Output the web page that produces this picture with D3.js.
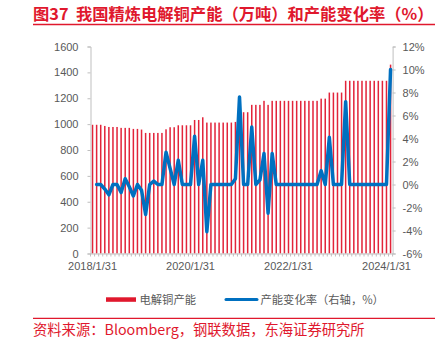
<!DOCTYPE html>
<html><head><meta charset="utf-8">
<script src="https://cdn.jsdelivr.net/npm/d3@7"></script>
<style>html,body{margin:0;padding:0;background:#fff;}svg{display:block;}</style>
</head><body>
<script>
const categories = [
"2018/1/31","2018/2/28","2018/3/31","2018/4/30","2018/5/31","2018/6/30","2018/7/31","2018/8/31","2018/9/30","2018/10/31","2018/11/30","2018/12/31",
"2019/1/31","2019/2/28","2019/3/31","2019/4/30","2019/5/31","2019/6/30","2019/7/31","2019/8/31","2019/9/30","2019/10/31","2019/11/30","2019/12/31",
"2020/1/31","2020/2/29","2020/3/31","2020/4/30","2020/5/31","2020/6/30","2020/7/31","2020/8/31","2020/9/30","2020/10/31","2020/11/30","2020/12/31",
"2021/1/31","2021/2/28","2021/3/31","2021/4/30","2021/5/31","2021/6/30","2021/7/31","2021/8/31","2021/9/30","2021/10/31","2021/11/30","2021/12/31",
"2022/1/31","2022/2/28","2022/3/31","2022/4/30","2022/5/31","2022/6/30","2022/7/31","2022/8/31","2022/9/30","2022/10/31","2022/11/30","2022/12/31",
"2023/1/31","2023/2/28","2023/3/31","2023/4/30","2023/5/31","2023/6/30","2023/7/31","2023/8/31","2023/9/30","2023/10/31","2023/11/30","2023/12/31",
"2024/1/31","2024/2/29"];
const capacity = [
995,995,995,986,978,978,978,971,971,971,963,963,
958,932,932,932,932,932,960,976,976,991,991,991,
991,1032,1032,1053,1012,1012,1012,1012,1012,1012,1012,1017,
1092,1092,1092,1149,1149,1149,1180,1149,1180,1180,1180,1180,
1180,1180,1180,1180,1180,1180,1180,1180,1197,1197,1244,1244,
1244,1244,1335,1335,1335,1335,1335,1335,1335,1335,1335,1335,
1335,1460];
const changeRate = [
null,0,0,-0.4,-0.9,0,0,-0.7,0.5,-0.2,-1.0,0,
-0.5,-2.6,0,0.3,0,0,2.8,1.4,0,2.1,0,0,
0,4.2,0,2.1,-4.1,0,0,0,0,0,0,0.5,
7.6,0,0,5.0,0,0.4,2.7,-2.5,2.7,0,0,0,
0,0,0,0,0,0,0,0,1.2,0,4.1,0,
0,0,7.2,0,0,0,0,0,0,0,0,0,
0,10.0];
const xTickLabels = ["2018/1/31","2020/1/31","2022/1/31","2024/1/31"];
const leftTicks = [0,200,400,600,800,1000,1200,1400,1600];
const rightTicks = [-6,-4,-2,0,2,4,6,8,10,12];
const titleText = "图37  我国精炼电解铜产能（万吨）和产能变化率（%）";
const sourceText = "资料来源：Bloomberg，钢联数据，东海证券研究所";
const legendLabels = ["电解铜产能","产能变化率（右轴，%）"];

const W = 448, H = 343;
const red = "#e0182d", barRed = "#e2243a", blue = "#0070c0", grey = "#bfbfbf", txt = "#595959";
const cjk = "'Noto Sans CJK SC', sans-serif";
const num = "'Liberation Sans', Arial, sans-serif";

const svg = d3.select("body").append("svg").attr("width", W).attr("height", H);

const x = d3.scaleBand().domain(categories).range([90.5, 392.6]).padding(0);
const yL = d3.scaleLinear().domain([0, 1600]).range([253.5, 46.5]);
const yR = d3.scaleLinear().domain([-6, 12]).range([253.5, 46.5]);

// Title
svg.append("text").attr("x", 33).attr("y", 20).attr("fill", red)
  .attr("font-family", cjk).attr("font-weight", "bold").attr("font-size", 16.3)
  .attr("xml:space", "preserve").style("white-space", "pre").text(titleText);
svg.append("line").attr("x1", 33).attr("x2", 435).attr("y1", 24.5).attr("y2", 24.5)
  .attr("stroke", red).attr("stroke-width", 1.3);

// Bars
svg.append("g").selectAll("rect").data(capacity).join("rect")
  .attr("x", (d, i) => x(categories[i]) + x.bandwidth() / 2 - 0.75)
  .attr("width", 1.5)
  .attr("y", d => yL(d))
  .attr("height", d => yL(0) - yL(d))
  .attr("fill", barRed);

// Left axis
const gL = svg.append("g").attr("transform", "translate(90.5,0)")
  .call(d3.axisLeft(yL).tickValues(leftTicks).tickSize(3).tickPadding(9).tickFormat(d3.format("d")));
// Right axis
const gR = svg.append("g").attr("transform", "translate(392.6,0)")
  .call(d3.axisRight(yR).tickValues(rightTicks).tickSize(3).tickPadding(7).tickFormat(d => d + "%"));
// Bottom axis
const gB = svg.append("g").attr("transform", "translate(0,253.5)")
  .call(d3.axisBottom(x).tickValues(xTickLabels).tickSize(0).tickPadding(9));
gB.selectAll(".tick line").remove();
// month tick marks along the bottom
svg.append("g").selectAll("line").data(categories.concat(["end"])).join("line")
  .attr("x1", (d, i) => 90.5 + i * x.step()).attr("x2", (d, i) => 90.5 + i * x.step())
  .attr("y1", 253.5).attr("y2", 256.5).attr("stroke", grey).attr("stroke-width", 1);

[gL, gR, gB].forEach(g => {
  g.select(".domain").attr("stroke", grey);
  g.selectAll(".tick line").attr("stroke", grey);
  g.selectAll("text").attr("fill", txt).attr("font-family", num).attr("font-size", 11);
});

// Line
const line = d3.line()
  .defined(d => d != null)
  .x((d, i) => x(categories[i]) + x.bandwidth() / 2)
  .y(d => yR(d));
svg.append("path").datum(changeRate).attr("d", line)
  .attr("fill", "none").attr("stroke", blue).attr("stroke-width", 3.5)
  .attr("stroke-linejoin", "round").attr("stroke-linecap", "round");

// Legend
svg.append("rect").attr("x", 106).attr("y", 297.3).attr("width", 30).attr("height", 4.5).attr("fill", red);
svg.append("text").attr("x", 139.5).attr("y", 304).attr("fill", txt)
  .attr("font-family", cjk).attr("font-size", 11.3).text(legendLabels[0]);
svg.append("line").attr("x1", 226).attr("x2", 257).attr("y1", 299.5).attr("y2", 299.5)
  .attr("stroke", blue).attr("stroke-width", 3).attr("stroke-linecap", "round");
svg.append("text").attr("x", 260.5).attr("y", 304).attr("fill", txt)
  .attr("font-family", cjk).attr("font-size", 11.3).text(legendLabels[1]);

// Source
svg.append("line").attr("x1", 33).attr("x2", 435).attr("y1", 318.3).attr("y2", 318.3)
  .attr("stroke", red).attr("stroke-width", 1.3);
svg.append("text").attr("x", 33).attr("y", 335).attr("fill", red)
  .attr("font-family", cjk).attr("font-size", 14.3).text(sourceText);
</script>
</body></html>
